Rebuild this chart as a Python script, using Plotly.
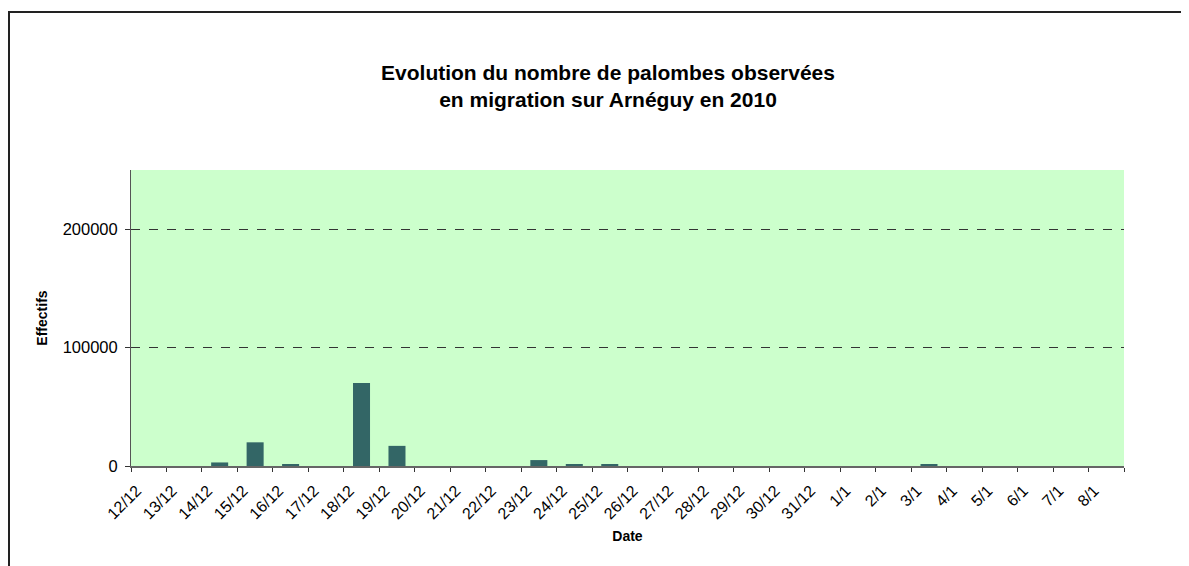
import plotly.graph_objects as go

dates = ["12/12", "13/12", "14/12", "15/12", "16/12", "17/12", "18/12", "19/12",
         "20/12", "21/12", "22/12", "23/12", "24/12", "25/12", "26/12", "27/12",
         "28/12", "29/12", "30/12", "31/12", "1/1", "2/1", "3/1", "4/1", "5/1",
         "6/1", "7/1", "8/1"]
effectifs = [0, 0, 3000, 20000, 1500, 0, 70000, 17000,
             0, 0, 0, 5000, 1200, 1200, 0, 0,
             0, 0, 0, 0, 0, 0, 1200, 0, 0,
             0, 0, 0]
y_ticks = [0, 100000, 200000]

# page has an 8px body margin, so the figure starts at (8, 8)
W, H = 1181, 558
L, T = 123, 162
R = W - 1116
B = H - 458
pw = W - L - R
ph = H - T - B

fig = go.Figure()
fig.add_trace(go.Bar(
    x=dates, y=effectifs,
    marker=dict(color="#336666", line=dict(color="#336666", width=0)),
    width=0.48,
))

def px_to_paper_x(px):
    return (px - L) / pw

def px_to_paper_y(py):
    return (H - B - py) / ph

fig.update_layout(
    width=W, height=H,
    margin=dict(l=L, r=R, t=T, b=B),
    paper_bgcolor="white",
    plot_bgcolor="#CCFFCC",
    font=dict(family="Liberation Sans, Arial, sans-serif", color="black"),
    showlegend=False,
    title=dict(
        text="<b>Evolution du nombre de palombes observées<br>en migration sur Arnéguy en 2010</b>",
        x=600 / W, xanchor="center",
        y=1 - 72 / H, yanchor="middle",
        font=dict(size=21, color="black"),
    ),
    xaxis=dict(
        type="category",
        tickangle=-45,
        tickson="boundaries",
        ticks="outside", ticklen=4, tickcolor="#333333",
        showline=True, linecolor="#666666", linewidth=2,
        showgrid=False,
        tickfont=dict(size=16),
        ticklabelshift=-12,
        ticklabelstandoff=7,
        title=dict(text="<b>Date</b>", font=dict(size=14), standoff=10),
        range=[-0.5, len(dates) - 0.5],
    ),
    yaxis=dict(
        range=[0, 250000],
        tickvals=y_ticks,
        ticktext=[str(v) for v in y_ticks],
        ticks="outside", ticklen=5, tickcolor="#333333",
        showline=True, linecolor="#555555", linewidth=1,
        showgrid=True, gridcolor="#333333", griddash="dash", gridwidth=1,
        zeroline=False,
        tickfont=dict(size=16.5),
        ticklabelstandoff=4,
        title=dict(text="<b>Effectifs</b>", font=dict(size=14), standoff=11),
    ),
    bargap=0.5,
)

fig.add_shape(
    type="rect", xref="paper", yref="paper",
    x0=px_to_paper_x(1), x1=px_to_paper_x(1200),
    y0=px_to_paper_y(580), y1=px_to_paper_y(4),
    line=dict(color="#222222", width=2), fillcolor="rgba(0,0,0,0)",
    layer="below",
)

fig.write_html("out.html")
